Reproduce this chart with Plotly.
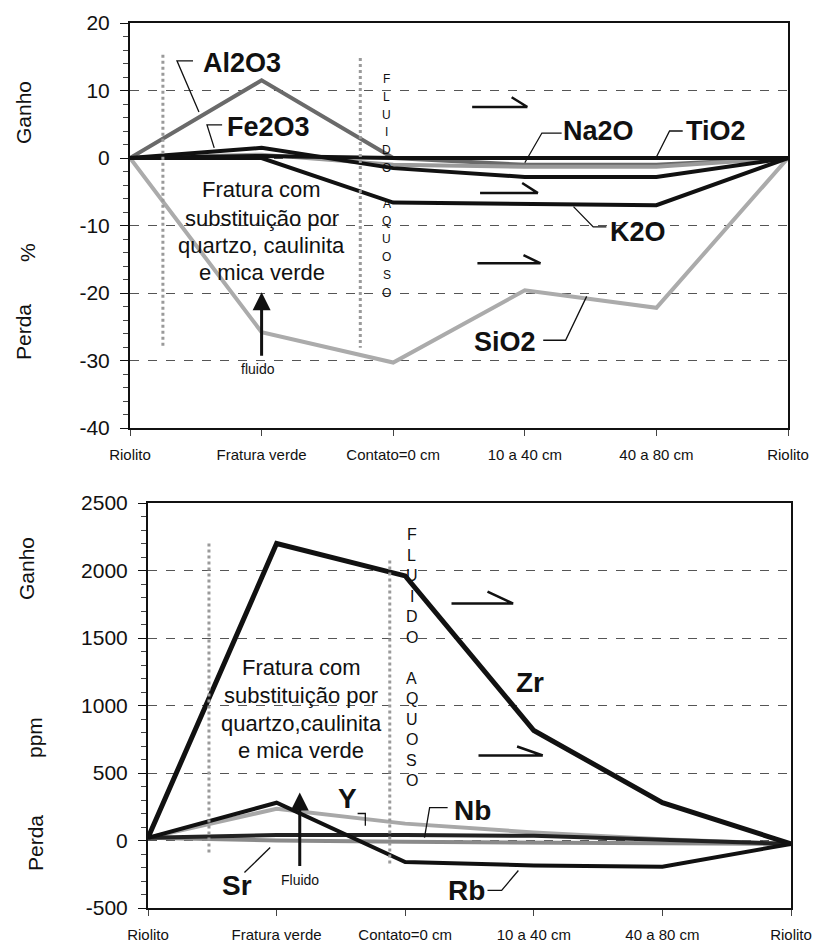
import plotly.graph_objects as go

# ---------------- data ----------------
categories = ["Riolito", "Fratura verde", "Contato=0 cm", "10 a 40 cm", "40 a 80 cm", "Riolito"]
xpos = [0, 1, 2, 3, 4, 5]

top_ticks = [20, 10, 0, -10, -20, -30, -40]
bottom_ticks = [2500, 2000, 1500, 1000, 500, 0, -500]

# major oxides (%)
al2o3 = [0, 11.5, 0.0, -1.0, -1.0, 0]
fe2o3 = [0, 1.5, -1.5, -2.8, -2.8, 0]
na2o = [0, 0.5, -1.0, -1.3, -1.3, 0]
tio2 = [0, 0.3, 0.0, 0.0, 0.0, 0]
k2o = [0, 0.0, -6.6, -6.8, -7.0, 0]
sio2 = [0, -25.8, -30.3, -19.6, -22.2, 0]

# trace elements (ppm)
zr = [20, 2200, 1960, 815, 280, -25]
rb = [20, 280, -160, -185, -195, -25]
y_el = [20, 235, 125, 60, 10, -25]
nb = [20, 40, 40, 35, 5, -25]
sr = [20, 0, -10, -15, -20, -25]

W, H = 814, 945
FONT = "Liberation Sans, Arial, sans-serif"

fig = go.Figure()

def add(x, y, color, width, xa, ya):
    fig.add_trace(go.Scatter(x=x, y=y, mode="lines", line=dict(color=color, width=width),
                             xaxis=xa, yaxis=ya, showlegend=False, hoverinfo="skip"))

# top chart traces
add(xpos, sio2, "#ababab", 4, "x", "y")
add(xpos, al2o3, "#6a6a6a", 4, "x", "y")
add(xpos, na2o, "#9a9a9a", 4, "x", "y")
add(xpos, fe2o3, "#111111", 4, "x", "y")
add(xpos, tio2, "#111111", 4, "x", "y")
add(xpos, k2o, "#111111", 4, "x", "y")

# bottom chart traces
add(xpos, y_el, "#a8a8a8", 4, "x2", "y2")
add(xpos, sr, "#8a8a8a", 4, "x2", "y2")
add(xpos, nb, "#222222", 4, "x2", "y2")
add(xpos, rb, "#111111", 4, "x2", "y2")
add(xpos, zr, "#111111", 5, "x2", "y2")

# ------------- layout / axes -------------
def px_x(p):
    return p / W

def px_y(p):
    return 1 - p / H

top_minor = [v for v in range(-40, 21, 2) if v % 10 != 0]
bottom_minor = [v for v in range(-500, 2501, 100) if v % 500 != 0]

common_x = dict(range=[0, 5], tickmode="array", tickvals=xpos, ticktext=categories,
                showline=True, linecolor="#111", linewidth=2, mirror=True, automargin=False,
                ticks="outside", ticklen=6, tickcolor="#444", showgrid=False, zeroline=False,
                tickfont=dict(family=FONT, size=15, color="#111"), ticklabelstandoff=6)
common_y = dict(showline=True, linecolor="#111", linewidth=2, mirror=True, automargin=False,
                ticks="outside", ticklen=8, tickcolor="#111", tickmode="array",
                showgrid=True, gridcolor="#555", griddash="dash", gridwidth=1.3, zeroline=False,
                tickfont=dict(family=FONT, size=21, color="#111"), ticklabelstandoff=6)

fig.update_layout(
    width=W, height=H, margin=dict(l=0, r=0, t=0, b=0),
    paper_bgcolor="white", plot_bgcolor="white",
    xaxis=dict(domain=[px_x(130), px_x(788)], anchor="y", **common_x),
    yaxis=dict(domain=[px_y(428), px_y(23)], anchor="x", range=[-40, 20],
               tickvals=top_ticks, ticktext=[str(v) for v in top_ticks],
               minor=dict(tickmode="array", tickvals=top_minor, ticks="outside", ticklen=5,
                          tickcolor="#444", tickwidth=1, showgrid=False),
               **common_y),
    xaxis2=dict(domain=[px_x(148), px_x(791)], anchor="y2", **common_x),
    yaxis2=dict(domain=[px_y(908), px_y(503)], anchor="x2", range=[-500, 2500],
                tickvals=bottom_ticks, ticktext=[str(v) for v in bottom_ticks],
                minor=dict(tickmode="array", tickvals=bottom_minor, ticks="outside", ticklen=5,
                           tickcolor="#444", tickwidth=1, showgrid=False),
                **common_y),
)

annotations = []
shapes = []

def txt(text, x, y, size, xr="x", yr="y", bold=False, angle=0, color="#111"):
    annotations.append(dict(text=f"<b>{text}</b>" if bold else text, x=x, y=y, xref=xr, yref=yr,
                            showarrow=False, textangle=angle,
                            font=dict(family=FONT, size=size, color=color),
                            xanchor="center", yanchor="middle"))

def path(pts, xr, yr, color="#111", width=1.3, dash="solid"):
    d = "M " + " L ".join(f"{a},{b}" for a, b in pts)
    shapes.append(dict(type="path", path=d, xref=xr, yref=yr,
                       line=dict(color=color, width=width, dash=dash)))

def half_arrow(x0, x1, yv, xh, yh, xr, yr):
    d = f"M {x0},{yv} L {x1},{yv} M {xh},{yh} L {x1},{yv}"
    shapes.append(dict(type="path", path=d, xref=xr, yref=yr, line=dict(color="#111", width=2.5)))

# axis titles (paper coordinates)
txt("Ganho", px_x(24), px_y(113), 21, "paper", "paper", angle=-90)
txt("%", px_x(28), px_y(253), 21, "paper", "paper", angle=-90)
txt("Perda", px_x(24), px_y(332), 21, "paper", "paper", angle=-90)
txt("Ganho", px_x(26), px_y(569), 21, "paper", "paper", angle=-90)
txt("ppm", px_x(34), px_y(738), 21, "paper", "paper", angle=-90)
txt("Perda", px_x(35), px_y(843), 21, "paper", "paper", angle=-90)

# ---- top chart decorations ----
path([(0.25, 15.3), (0.25, -28.1)], "x", "y", color="#9a9a9a", width=3, dash="dot")
path([(1.75, 14.8), (1.75, -28.1)], "x", "y", color="#9a9a9a", width=3, dash="dot")

txt("Al2O3", 0.85, 14.1, 27, bold=True)
path([(0.479, 14.4), (0.357, 14.4), (0.524, 6.8)], "x", "y")
txt("Fe2O3", 1.05, 4.6, 27, bold=True)
path([(0.70, 4.9), (0.585, 4.9), (0.64, 1.5)], "x", "y")
txt("Na2O", 3.56, 4.0, 27, bold=True)
path([(3.28, 3.7), (3.13, 3.7), (3.0, -0.7)], "x", "y")
txt("TiO2", 4.45, 4.0, 27, bold=True)
path([(4.20, 4.0), (4.10, 4.0), (4.0, 0.15)], "x", "y")
txt("K2O", 3.86, -11.0, 27, bold=True)
path([(3.62, -10.2), (3.52, -10.2), (3.37, -7.2)], "x", "y")
txt("SiO2", 2.85, -27.3, 27, bold=True)
path([(3.14, -27.0), (3.31, -27.0), (3.47, -20.5)], "x", "y")

for line, yy in zip(["Fratura com", "substituição por", "quartzo, caulinita", "e mica verde"],
                    [-4.7, -8.9, -12.9, -16.9]):
    txt(line, 1.0, yy, 22)

letters = ["F", "L", "U", "I", "D", "O", "", "A", "Q", "U", "O", "S", "O"]
for i, ch in enumerate(letters):
    if ch:
        txt(ch, 1.95, (158 - (79 + 17.8 * i)) / 6.75, 12)

half_arrow(2.60, 3.02, 7.55, 2.90, 9.0, "x", "y")
half_arrow(2.66, 3.10, -5.2, 2.98, -3.7, "x", "y")
half_arrow(2.64, 3.12, -15.6, 2.99, -14.4, "x", "y")

annotations.append(dict(x=1.0, y=-19.9, ax=1.0, ay=-29.5, xref="x", yref="y", axref="x", ayref="y",
                        showarrow=True, arrowhead=2, arrowsize=1.2, arrowwidth=3, arrowcolor="#111", text=""))
txt("fluido", 0.97, -31.2, 14)

# ---- bottom chart decorations ----
path([(0.474, 2200), (0.474, -100)], "x2", "y2", color="#9a9a9a", width=3, dash="dot")
path([(1.88, 2075), (1.88, -185)], "x2", "y2", color="#9a9a9a", width=3, dash="dot")

for line, yy in zip(["Fratura com", "substituição por", "quartzo,caulinita", "e mica verde"],
                    [1281, 1074, 867, 667]):
    txt(line, 1.19, yy, 22, "x2", "y2")

for i, ch in enumerate(letters):
    if ch:
        txt(ch, 2.05, (840 - (534 + 20.5 * i)) / 0.135, 16, "x2", "y2")

half_arrow(2.36, 2.84, 1755, 2.64, 1844, "x2", "y2")
half_arrow(2.57, 3.07, 630, 2.87, 696, "x2", "y2")

txt("Zr", 2.97, 1170, 28, "x2", "y2", bold=True)
txt("Y", 1.55, 311, 28, "x2", "y2", bold=True)
path([(1.63, 200), (1.69, 200), (1.69, 110)], "x2", "y2")
txt("Nb", 2.52, 222, 28, "x2", "y2", bold=True)
path([(2.33, 244), (2.19, 244), (2.15, 22)], "x2", "y2")
txt("Sr", 0.69, -333, 28, "x2", "y2", bold=True)
path([(0.75, -237), (0.95, -52)], "x2", "y2")
txt("Rb", 2.48, -370, 28, "x2", "y2", bold=True)
path([(2.64, -370), (2.75, -370), (2.88, -222)], "x2", "y2")

annotations.append(dict(x=1.18, y=355, ax=1.18, ay=-200, xref="x2", yref="y2", axref="x2", ayref="y2",
                        showarrow=True, arrowhead=2, arrowsize=1.2, arrowwidth=3, arrowcolor="#111", text=""))
txt("Fluido", 1.18, -290, 14, "x2", "y2")

fig.update_layout(annotations=annotations, shapes=shapes)
fig.write_html("out.html")
